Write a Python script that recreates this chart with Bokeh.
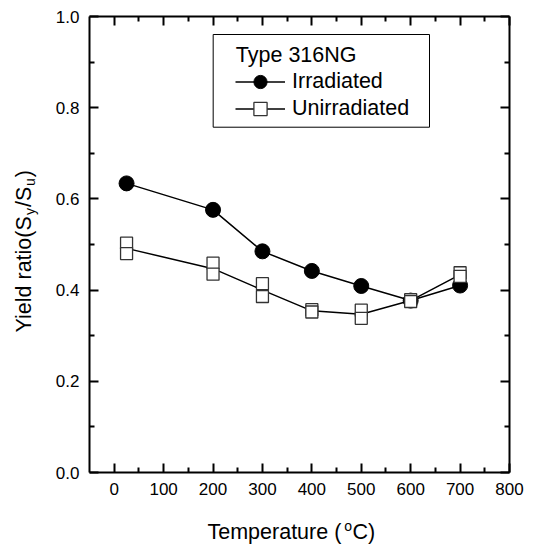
import math
from bokeh.plotting import figure
from bokeh.models import (FixedTicker, PrintfTickFormatter, LinearAxis, Legend,
                          LegendItem, Range1d, BoxAnnotation, Label)
from bokeh.layouts import row, column
from bokeh.core.properties import value
from bokeh.embed import file_html
from bokeh.resources import INLINE

# ---- data ----
temps = [25, 200, 300, 400, 500, 600, 700]
irradiated = [0.634, 0.576, 0.485, 0.442, 0.409, 0.377, 0.410]
unirradiated_a = [0.503, 0.459, 0.414, 0.357, 0.356, 0.379, 0.438]
unirradiated_b = [0.480, 0.435, 0.386, 0.352, 0.338, 0.375, 0.430]
unirradiated_mean = [(a + b) / 2 for a, b in zip(unirradiated_a, unirradiated_b)]

x_ticks = [0, 100, 200, 300, 400, 500, 600, 700, 800]
x_minor = [50, 150, 250, 350, 450, 550, 650, 750]
y_ticks = [0.0, 0.2, 0.4, 0.6, 0.8, 1.0]
y_minor = [0.1, 0.3, 0.5, 0.7, 0.9]

FONT = "Liberation Sans"
TICK_FS = "17px"
TITLE_FS = 21.5
SUB_FS = 14
HALF_CAP = 0.358 * TITLE_FS      # text anchor sits at mid-cap in this renderer
HALF_CAP_SUB = 0.358 * SUB_FS

LEFT_W = 40
MAIN_W = 492
MAIN_H = 506
BOTTOM_H = 39
FRAME_H = 456


def bare(width, height, yspan):
    f = figure(width=width, height=height, x_range=Range1d(0, width), y_range=Range1d(0, yspan),
               output_backend="svg", toolbar_location=None, min_border=0,
               x_axis_location=None, y_axis_location=None)
    f.title = None
    f.grid.visible = False
    f.outline_line_color = None
    f.background_fill_color = "white"
    f.border_fill_color = "white"
    return f


p = figure(width=MAIN_W, height=MAIN_H, x_range=Range1d(-50, 800), y_range=Range1d(0, 1),
           output_backend="svg", toolbar_location=None,
           min_border_left=49, min_border_right=23, min_border_top=16, min_border_bottom=34,
           x_axis_location=None, y_axis_location=None)
p.title = None
p.grid.visible = False
p.outline_line_color = None
p.background_fill_color = "white"
p.border_fill_color = "white"


def style_axis(ax, ticks, minor, fmt, show_labels):
    ax.ticker = FixedTicker(ticks=ticks, minor_ticks=minor)
    ax.formatter = PrintfTickFormatter(format=fmt)
    ax.axis_line_width = 2
    ax.axis_line_color = "black"
    ax.major_tick_line_width = 2
    ax.minor_tick_line_width = 2
    ax.major_tick_line_color = "black"
    ax.minor_tick_line_color = "black"
    ax.major_tick_in = 9
    ax.major_tick_out = 0
    ax.minor_tick_in = 5
    ax.minor_tick_out = 0
    ax.major_label_text_font = FONT
    ax.major_label_text_font_size = TICK_FS
    ax.major_label_text_color = "black"
    ax.major_label_standoff = 10
    if not show_labels:
        ax.major_label_overrides = {t: "" for t in ticks}
        ax.major_label_standoff = 0


bottom = LinearAxis()
style_axis(bottom, x_ticks, x_minor, "%d", True)
top = LinearAxis()
style_axis(top, x_ticks, x_minor, "%d", False)
left = LinearAxis()
style_axis(left, y_ticks, y_minor, "%.1f", True)
right = LinearAxis()
style_axis(right, y_ticks, y_minor, "%.1f", False)
p.add_layout(bottom, "below")
p.add_layout(top, "above")
p.add_layout(left, "left")
p.add_layout(right, "right")

# ---- series ----
l_irr = p.line(temps, irradiated, line_color="black", line_width=1.5)
l_un = p.line(temps, unirradiated_mean, line_color="black", line_width=1.5)
c_irr = p.scatter(temps, irradiated, marker="circle", size=15,
                  fill_color="black", line_color="black")
s_a = p.scatter(temps, unirradiated_a, marker="square", size=12,
                fill_color="white", line_color="#333333", line_width=1.3)
s_b = p.scatter(temps, unirradiated_b, marker="square", size=12,
                fill_color="white", line_color="#333333", line_width=1.3)

# ---- legend: frame box, title label, one library legend per entry ----
p.add_layout(BoxAnnotation(left=200.3, right=638.1, top=0.9605, bottom=0.7572,
                           fill_color="white", fill_alpha=1.0,
                           line_color="black", line_width=1, line_alpha=1.0))
p.add_layout(Label(x=246.1, y=0.9149, text="Type 316NG", text_font=FONT,
                   text_font_size=f"{TITLE_FS}px", text_color="black",
                   text_align="left", text_baseline="alphabetic"))


def entry(label, renderers, loc):
    return Legend(items=[LegendItem(label=label, renderers=renderers)],
                  location=loc,
                  label_text_font=FONT, label_text_font_size=f"{TITLE_FS}px",
                  label_text_color="black",
                  glyph_width=50, glyph_height=33, label_height=20,
                  label_standoff=7, spacing=0, padding=0, margin=0,
                  border_line_color=None, background_fill_alpha=0.0)


p.add_layout(entry("Irradiated", [l_irr, c_irr], (146, 374)))
p.add_layout(entry("Unirradiated", [l_un, s_a], (146, 347)))

# ---- y title strip (rotated, reads bottom-to-top); its frame aligns with the main frame ----
ly = bare(LEFT_W, MAIN_H, FRAME_H)
em = TITLE_FS
base_x = 31                    # desired baseline (px from strip left)
bx = base_x - HALF_CAP
bx_sub = base_x + 4 - HALF_CAP_SUB
y0 = 140
p1 = 5.446 * em
p2 = 0.945 * em
ys = [y0, y0 + p1 + 0.5, y0 + p1 + 0.5 * SUB_FS + 1.5,
      y0 + p1 + 0.5 * SUB_FS + 1.5 + p2 + 0.5,
      y0 + p1 + 0.5 * SUB_FS + 1.5 + p2 + 0.556 * SUB_FS + 1.5]
ly.text(x=[bx], y=[ys[0]], text=["Yield ratio(S"], angle=math.pi / 2,
        text_font=value(FONT), text_font_size=value(f"{TITLE_FS}px"),
        text_align="left", text_baseline="alphabetic", text_color="black")
ly.text(x=[bx_sub, bx_sub], y=[ys[1], ys[3]], text=["y", "u"], angle=math.pi / 2,
        text_font=value(FONT), text_font_size=value(f"{SUB_FS}px"),
        text_align="left", text_baseline="alphabetic", text_color="black")
ly.text(x=[bx, bx], y=[ys[2], ys[4]], text=["/S", ")"], angle=math.pi / 2,
        text_font=value(FONT), text_font_size=value(f"{TITLE_FS}px"),
        text_align="left", text_baseline="alphabetic", text_color="black")

# ---- x title strip ----
bt = bare(LEFT_W + MAIN_W, BOTTOM_H, BOTTOM_H)
x0 = 207
w1 = 6.335 * em
base_y = 6                     # desired baseline (px from strip bottom)
bt.text(x=[x0, x0 + w1 + 0.5 * SUB_FS * 0.556 * 2 + 1], y=[base_y + HALF_CAP] * 2,
        text=["Temperature (", "C)"],
        text_font=value(FONT), text_font_size=value(f"{TITLE_FS}px"),
        text_align="left", text_baseline="alphabetic", text_color="black")
bt.text(x=[x0 + w1 + 0.5], y=[base_y + 8 + HALF_CAP_SUB], text=["o"],
        text_font=value(FONT), text_font_size=value(f"{SUB_FS}px"),
        text_align="left", text_baseline="alphabetic", text_color="black")

layout = column(row(ly, p, spacing=0), bt, spacing=0)

open("out.html", "w").write(file_html(layout, INLINE))
